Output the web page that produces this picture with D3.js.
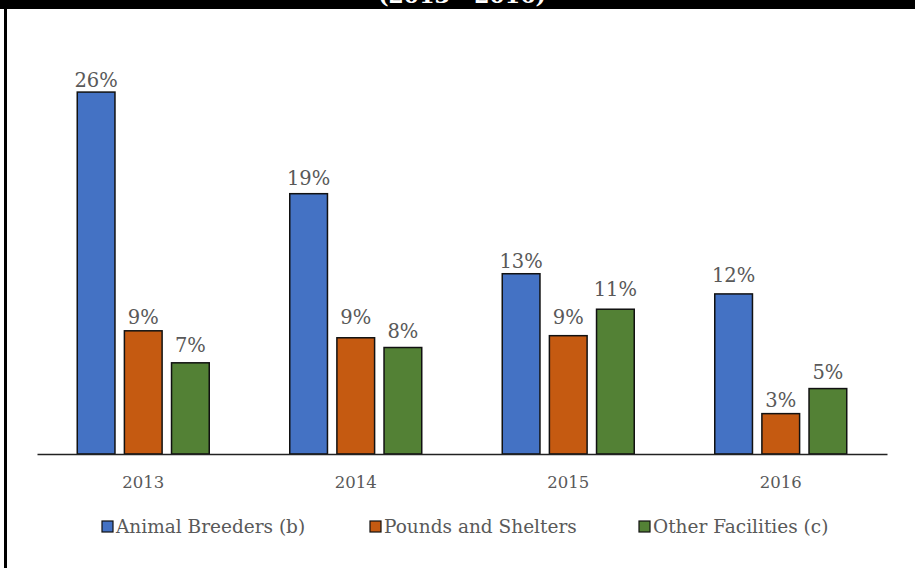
<!DOCTYPE html>
<html>
<head>
<meta charset="utf-8">
<script src="https://cdn.jsdelivr.net/npm/d3@7/dist/d3.min.js"></script>
<style>
  html, body { margin: 0; padding: 0; background: #fff; }
  svg { display: block; }
</style>
</head>
<body>
<svg id="chart" width="915" height="568"></svg>
<script>
// ---- data ----
const years = ["2013", "2014", "2015", "2016"];
const seriesNames = ["Animal Breeders (b)", "Pounds and Shelters", "Other Facilities (c)"];
const breeders = [26.0, 18.7, 12.95, 11.5];
const pounds = [8.85, 8.35, 8.5, 2.9];
const others = [6.55, 7.65, 10.4, 4.7];
const breedersLabels = ["26%", "19%", "13%", "12%"];
const poundsLabels = ["9%", "9%", "9%", "3%"];
const othersLabels = ["7%", "8%", "11%", "5%"];
const seriesColors = ["#4472C4", "#C55A11", "#538135"];
const titleText = "(2013 - 2016)";

const seriesValues = [breeders, pounds, others];
const seriesLabels = [breedersLabels, poundsLabels, othersLabels];

const W = 915, H = 568;
const svg = d3.select("#chart");
const font = "'DejaVu Serif', serif";
const gray = "#595959";

// frame
svg.append("rect").attr("x", 0).attr("y", 0).attr("width", W).attr("height", 9).attr("fill", "#000");
svg.append("rect").attr("x", 4).attr("y", 0).attr("width", 3).attr("height", H).attr("fill", "#000");

svg.append("text")
  .attr("x", 462).attr("y", 3)
  .attr("text-anchor", "middle")
  .attr("font-family", font).attr("font-weight", "bold")
  .attr("font-size", 22).attr("fill", "#fff")
  .text(titleText);

// scales
const x0 = d3.scaleBand().domain(years).range([37, 887]).paddingInner(0).paddingOuter(0);
const x1 = d3.scaleBand().domain(d3.range(seriesNames.length))
  .range([0, x0.bandwidth()]).paddingInner(0.2).paddingOuter(0.854);
const y = d3.scaleLinear().domain([0, 30]).range([454, 36.4]);

// bars
const rows = [];
years.forEach((yr, i) => {
  seriesNames.forEach((s, j) => {
    rows.push({ year: yr, si: j, value: seriesValues[j][i], label: seriesLabels[j][i] });
  });
});

const g = svg.append("g");
g.selectAll("rect.bar").data(rows).join("rect")
  .attr("class", "bar")
  .attr("x", d => x0(d.year) + x1(d.si))
  .attr("width", x1.bandwidth())
  .attr("y", d => y(d.value))
  .attr("height", d => y(0) - y(d.value))
  .attr("fill", d => seriesColors[d.si])
  .attr("stroke", "#111")
  .attr("stroke-width", 1.5);

g.selectAll("text.lbl").data(rows).join("text")
  .attr("class", "lbl")
  .attr("x", d => x0(d.year) + x1(d.si) + x1.bandwidth() / 2)
  .attr("y", d => y(parseFloat(d.label)) - 5)
  .attr("text-anchor", "middle")
  .attr("font-family", font)
  .attr("font-size", 19.5)
  .attr("fill", gray)
  .text(d => d.label);

// x axis
const xAxis = svg.append("g")
  .attr("transform", `translate(0,${y(0)})`)
  .call(d3.axisBottom(x0).tickSize(0).tickSizeOuter(0).tickPadding(22));
xAxis.select(".domain").attr("stroke", "#222").attr("stroke-width", 1.5);
xAxis.selectAll("text")
  .attr("font-family", font).attr("font-size", 16.5).attr("fill", gray);

// legend
const legendX = [102, 370, 639];
const lg = svg.append("g");
seriesNames.forEach((s, j) => {
  const item = lg.append("g").attr("transform", `translate(${legendX[j]},521)`);
  item.append("rect").attr("x", 0).attr("y", 0).attr("width", 11).attr("height", 11)
    .attr("fill", seriesColors[j]).attr("stroke", "#111").attr("stroke-width", 1.2);
  item.append("text").attr("x", 14).attr("y", 12)
    .attr("font-family", font).attr("font-size", 18.5).attr("fill", gray)
    .text(s);
});
</script>
</body>
</html>
